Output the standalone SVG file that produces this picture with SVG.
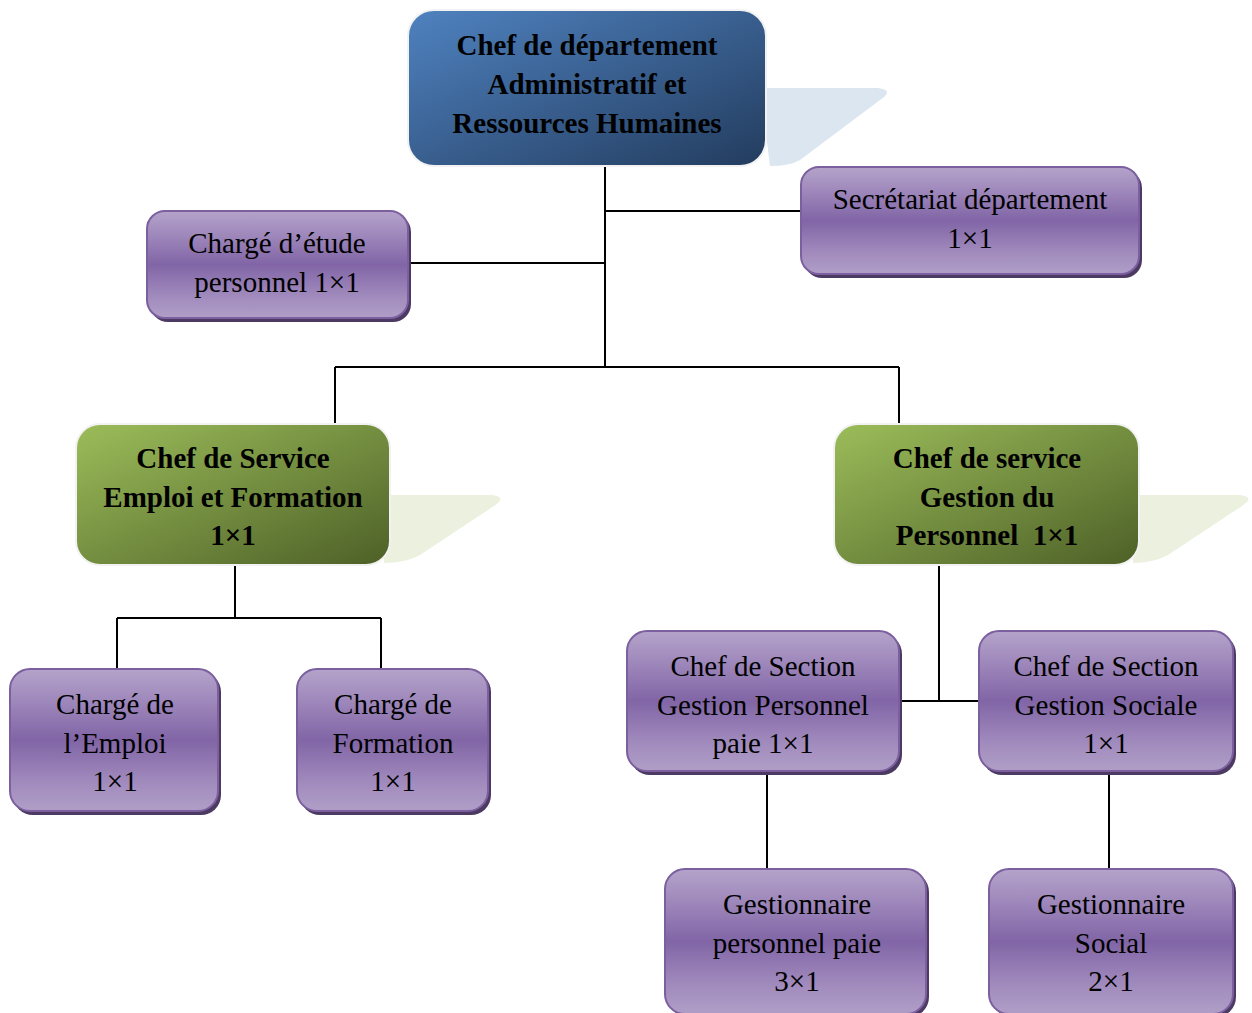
<svg xmlns="http://www.w3.org/2000/svg" width="1252" height="1013" viewBox="0 0 1252 1013">
<defs>
<linearGradient id="gBlue" x1="0" y1="0" x2="1" y2="1">
<stop offset="0" stop-color="#4f82c0"/>
<stop offset="1" stop-color="#233c5e"/>
</linearGradient>
<linearGradient id="gGreen" x1="0" y1="0" x2="1" y2="1">
<stop offset="0" stop-color="#9cbd5a"/>
<stop offset="1" stop-color="#4d6027"/>
</linearGradient>
<linearGradient id="gPurple" x1="0" y1="0" x2="0" y2="1">
<stop offset="0" stop-color="#b4a3ca"/>
<stop offset="0.2" stop-color="#a18bbd"/>
<stop offset="0.5" stop-color="#8165a6"/>
<stop offset="0.8" stop-color="#a18bbd"/>
<stop offset="1" stop-color="#b09ec7"/>
</linearGradient>
</defs>
<style>
.t{font-family:"Liberation Serif","Times New Roman",serif;font-size:29px;text-anchor:middle;fill:#000}
.b{font-weight:bold}
.p{fill:url(#gPurple);stroke:#7b5f9f;stroke-width:2}
.ps{fill:#4c3a63}
.c{stroke:#000;stroke-width:2;fill:none}
</style>
<g id="connectors">
<path class="c" d="M605 166V367M605 211H801M409 263H605M335 367H899M335 367V424M899 367V424"/>
<path class="c" d="M235 565V618M117 618H381M117 618V669M381 618V669"/>
<path class="c" d="M939 565V701M901 701H979M767 773V869M1109 773V869"/>
</g>
<g id="n-chef-dept">
<path d="M760 88H878Q895 90 880 100L800 160Q790 166 770 166Z" fill="#dce6f1"/>
<rect x="408" y="10" width="358" height="156" rx="26" fill="url(#gBlue)" stroke="#f2f2f2" stroke-width="2"/>
<text class="t b" x="587" y="55">Chef de département</text>
<text class="t b" x="587" y="94">Administratif et</text>
<text class="t b" x="587" y="133">Ressources Humaines</text>
</g>
<g id="n-charge-etude">
<rect class="ps" x="150" y="214" width="261" height="108" rx="18"/>
<rect class="p" x="147" y="211" width="261" height="107" rx="18"/>
<text class="t" x="277" y="253">Chargé d’étude</text>
<text class="t" x="277" y="292">personnel 1×1</text>
</g>
<g id="n-secretariat">
<rect class="ps" x="804" y="170" width="338" height="108" rx="18"/>
<rect class="p" x="801" y="167" width="338" height="107" rx="18"/>
<text class="t" x="970" y="209">Secrétariat département</text>
<text class="t" x="970" y="248">1×1</text>
</g>
<g id="n-chef-emploi">
<path d="M384 495H492Q508 497 494 506L420 555Q405 563 384 563Z" fill="#ebf1de"/>
<rect x="76" y="424" width="314" height="141" rx="24" fill="url(#gGreen)" stroke="#f2f2f2" stroke-width="2"/>
<text class="t b" x="233" y="468">Chef de Service</text>
<text class="t b" x="233" y="507">Emploi et Formation</text>
<text class="t b" x="233" y="545">1×1</text>
</g>
<g id="n-chef-gestion">
<path d="M1133 495H1240Q1256 497 1242 506L1168 555Q1153 563 1133 563Z" fill="#ebf1de"/>
<rect x="834" y="424" width="305" height="141" rx="24" fill="url(#gGreen)" stroke="#f2f2f2" stroke-width="2"/>
<text class="t b" x="987" y="468">Chef de service</text>
<text class="t b" x="987" y="507">Gestion du</text>
<text class="t b" x="987" y="545">Personnel&#160; 1×1</text>
</g>
<g id="n-charge-emploi">
<rect class="ps" x="13" y="672" width="208" height="143" rx="20"/>
<rect class="p" x="10" y="669" width="208" height="142" rx="20"/>
<text class="t" x="115" y="714">Chargé de</text>
<text class="t" x="115" y="753">l’Emploi</text>
<text class="t" x="115" y="791">1×1</text>
</g>
<g id="n-charge-formation">
<rect class="ps" x="300" y="672" width="191" height="143" rx="20"/>
<rect class="p" x="297" y="669" width="191" height="142" rx="20"/>
<text class="t" x="393" y="714">Chargé de</text>
<text class="t" x="393" y="753">Formation</text>
<text class="t" x="393" y="791">1×1</text>
</g>
<g id="n-section-personnel">
<rect class="ps" x="630" y="634" width="272" height="141" rx="20"/>
<rect class="p" x="627" y="631" width="272" height="140" rx="20"/>
<text class="t" x="763" y="676">Chef de Section</text>
<text class="t" x="763" y="715">Gestion Personnel</text>
<text class="t" x="763" y="753">paie 1×1</text>
</g>
<g id="n-section-sociale">
<rect class="ps" x="982" y="634" width="254" height="141" rx="20"/>
<rect class="p" x="979" y="631" width="254" height="140" rx="20"/>
<text class="t" x="1106" y="676">Chef de Section</text>
<text class="t" x="1106" y="715">Gestion Sociale</text>
<text class="t" x="1106" y="753">1×1</text>
</g>
<g id="n-gest-paie">
<rect class="ps" x="668" y="872" width="261" height="145" rx="20"/>
<rect class="p" x="665" y="869" width="261" height="145" rx="20"/>
<text class="t" x="797" y="914">Gestionnaire</text>
<text class="t" x="797" y="953">personnel paie</text>
<text class="t" x="797" y="991">3×1</text>
</g>
<g id="n-gest-social">
<rect class="ps" x="992" y="872" width="244" height="145" rx="20"/>
<rect class="p" x="989" y="869" width="244" height="145" rx="20"/>
<text class="t" x="1111" y="914">Gestionnaire</text>
<text class="t" x="1111" y="953">Social</text>
<text class="t" x="1111" y="991">2×1</text>
</g>
</svg>
